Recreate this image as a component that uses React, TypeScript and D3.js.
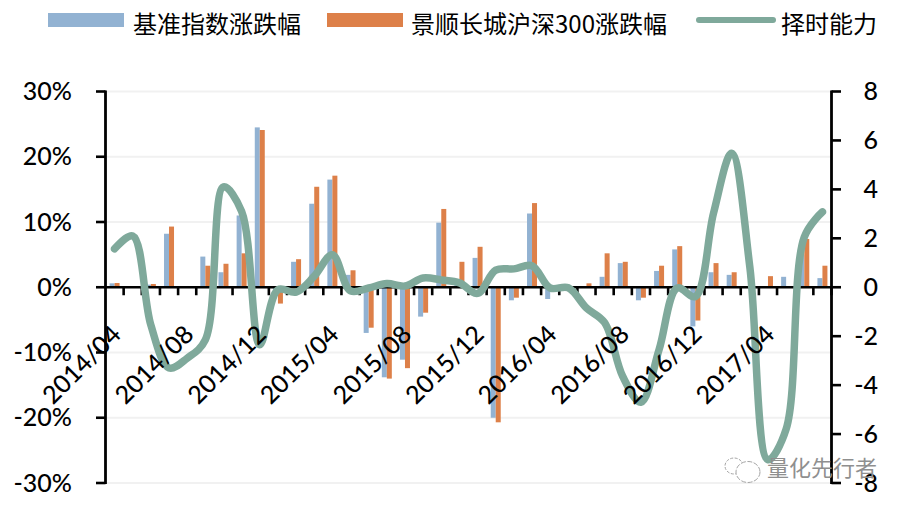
import React from "react";
import * as d3 from "d3";

const W = 906, H = 509;
const months = d3.range(40).map((i) => {
  const m = 3 + i;
  return `${2014 + Math.floor(m / 12)}/${String((m % 12) + 1).padStart(2, "0")}`;
});
const benchmark = [0.6,0,0.4,8.2,-0.1,4.7,2.3,11,24.5,-0.3,3.9,12.8,16.5,1.9,-7,-13.8,-11.1,-4.5,9.9,1,4.5,-20,-2,11.3,-1.8,-0.1,0.1,1.6,3.7,-2,2.5,5.8,-6,2.3,1.9,0.1,-0.1,1.6,5,1.4];
const fund = [0.65,0,0.5,9.3,0,3.3,3.6,5.2,24.1,-2.5,4.3,15.4,17.1,2.6,-6.2,-14,-12.4,-3.9,12,3.9,6.2,-20.7,-1.6,12.9,0.3,0.1,0.6,5.2,3.9,-1.6,3.3,6.3,-5.1,3.7,2.3,0.1,1.7,0,7.4,3.3];
const timing = [1.57,2.1,-1.55,-3.3,-2.9,-2.15,4.1,3.1,-2.35,-0.1,-0.2,0.45,1.33,-0.15,-0.03,0.15,0.05,0.38,0.3,0.18,-0.25,0.7,0.75,0.88,-0.03,-0.02,-0.85,-1.45,-3.65,-4.7,-2.55,-0.03,-0.38,3.03,5.48,0.83,-7.05,-5.8,2.05,3.08];
const leftTicks = [30,20,10,0,-10,-20,-30];
const rightTicks = [8,6,4,2,0,-2,-4,-6,-8];
const legendNames = ["基准指数涨跌幅","景顺长城沪深300涨跌幅","择时能力"];
const watermark = "量化先行者";

const BLUE = "#92b2d2", ORANGE = "#dd8049", GREEN = "#7fa99b";
const FONT = "Lato, 'Noto Sans CJK SC', sans-serif";
const CJK = "'Noto Sans CJK SC', sans-serif";

export default function App() {
  const x = d3.scaleBand<string>().domain(months).range([105.5, 831.5]);
  const yL = d3.scaleLinear().domain([-30, 30]).range([483, 91.5]);
  const yR = d3.scaleLinear().domain([-8, 8]).range([483, 91.5]);
  const cx = (m: string) => (x(m) as number) + x.bandwidth() / 2;
  const bw = 5;
  const line = d3.line<number>()
    .x((_, i) => cx(months[i]))
    .y((d) => yR(d))
    .curve(d3.curveCatmullRom.alpha(0.5));
  const bar = (v: number) => ({ y: Math.min(yL(v), yL(0)), height: Math.abs(yL(v) - yL(0)) });
  return (
    <svg width={W} height={H} viewBox={`0 0 ${W} ${H}`} style={{ position: "fixed", left: 0, top: 0, background: "#fff" }}>
      {leftTicks.filter((t) => t !== 0).map((t) => (
        <line key={t} x1={105.5} x2={831.5} y1={yL(t)} y2={yL(t)} stroke="#f1f1f1" strokeWidth={2} />
      ))}
      {months.map((m, i) => (
        <g key={m}>
          <rect x={cx(m) - bw} width={bw} {...bar(benchmark[i])} fill={BLUE} />
          <rect x={cx(m)} width={bw} {...bar(fund[i])} fill={ORANGE} />
        </g>
      ))}
      <line x1={105.5} x2={831.5} y1={yL(0)} y2={yL(0)} stroke="#000" strokeWidth={2.6} />
      {months.map((m) => (
        <line key={m} x1={(x(m) as number) + x.bandwidth()} x2={(x(m) as number) + x.bandwidth()} y1={yL(0)} y2={yL(0) + 8} stroke="#000" strokeWidth={2.6} />
      ))}
      <line x1={105.5} x2={105.5} y1={90.5} y2={484} stroke="#000" strokeWidth={2.8} />
      <line x1={831.5} x2={831.5} y1={90.5} y2={484} stroke="#000" strokeWidth={2.8} />
      {leftTicks.map((t) => (
        <g key={t}>
          <line x1={96} x2={105.5} y1={yL(t)} y2={yL(t)} stroke="#000" strokeWidth={2.6} />
          <text x={72} y={yL(t) + 8.5} textAnchor="end" fontFamily={FONT} fontSize={25} fontWeight={500}>{`${t}%`}</text>
        </g>
      ))}
      {rightTicks.map((t) => (
        <g key={t}>
          <line x1={831.5} x2={841} y1={yR(t)} y2={yR(t)} stroke="#000" strokeWidth={2.6} />
          <text x={878} y={yR(t) + 8.5} textAnchor="end" fontFamily={FONT} fontSize={25} fontWeight={500}>{t}</text>
        </g>
      ))}
      <path d={line(timing) as string} fill="none" stroke={GREEN} strokeWidth={7.5} strokeLinecap="round" strokeLinejoin="round" />
      {months.filter((_, i) => i % 4 === 0).map((m) => (
        <text key={m} transform={`translate(${cx(m) + 8},${336}) rotate(-45)`} textAnchor="end" fontFamily={FONT} fontSize={25} fontWeight={500} fill="#000">{m}</text>
      ))}
      <rect x={48} y={13} width={76} height={14} fill={BLUE} />
      <text x={133} y={33} fontFamily={CJK} fontSize={24}>{legendNames[0]}</text>
      <rect x={327} y={13} width={76} height={14} fill={ORANGE} />
      <text x={411} y={33} fontFamily={CJK} fontSize={24}>{legendNames[1]}</text>
      <line x1={699} x2={773} y1={20} y2={20} stroke={GREEN} strokeWidth={6} strokeLinecap="round" />
      <text x={781} y={33} fontFamily={CJK} fontSize={24}>{legendNames[2]}</text>
      <g fill="#fff" stroke="#a5a5a5" strokeWidth={1}>
        <ellipse cx={734} cy={466} rx={9} ry={8} strokeDasharray="3 1.5" />
        <ellipse cx={748} cy={472} rx={12} ry={10.5} strokeDasharray="5 1.5" />
      </g>
      <text x={767} y={476} fontFamily={CJK} fontSize={22} fill="#8f8f8f">{watermark}</text>
    </svg>
  );
}
